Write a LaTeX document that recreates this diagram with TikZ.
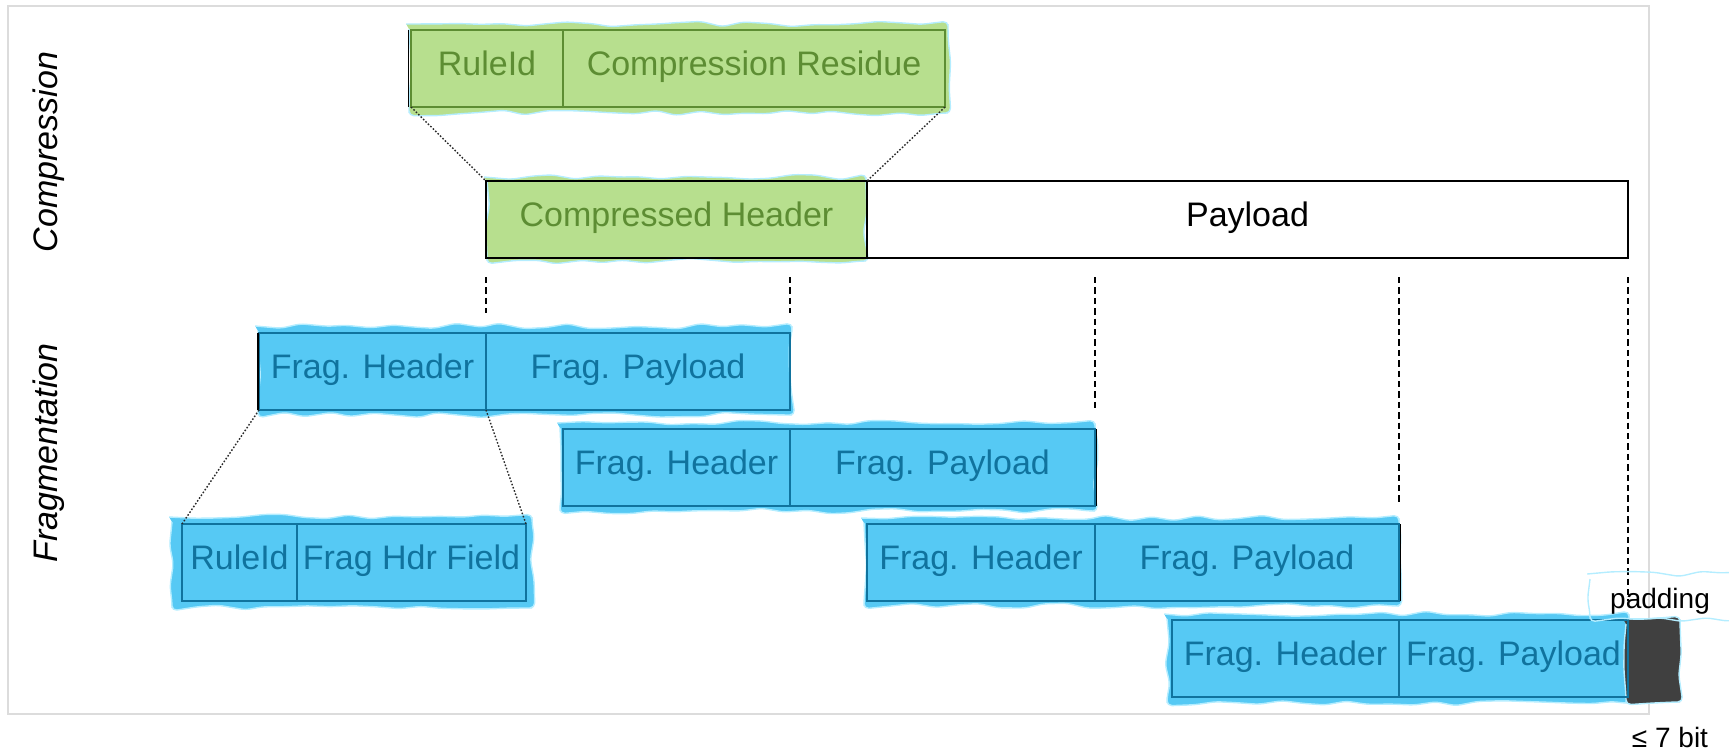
\documentclass[tikz,border=0pt]{standalone}
\usepackage{fontspec}
\setmainfont{Liberation Sans}
\usetikzlibrary{decorations.pathmorphing}

\definecolor{gfill}{HTML}{B7DF8E}
\definecolor{gline}{HTML}{5D8D33}
\definecolor{bfill}{HTML}{56C9F4}
\definecolor{bline}{HTML}{10739E}
\definecolor{sketchedge}{HTML}{B4EDFF}
\definecolor{padfill}{HTML}{404040}
\definecolor{framegray}{HTML}{DCDCDC}
\definecolor{dotgray}{HTML}{2A2A2A}

\pgfdeclarelayer{background}
\pgfsetlayers{background,main}

\begin{document}
\begin{tikzpicture}[x=0.5pt, y=-0.5pt,
  cell/.style={anchor=north west, inner sep=0pt, outer sep=0pt,
    minimum height=38.5pt, line width=0.75pt,
    font=\fontsize{17}{20}\selectfont, text height=0.85em, text depth=0.15em},
  gcell/.style={cell, draw=gline, text=gline},
  bcell/.style={cell, draw=bline, text=bline},
  plaincell/.style={cell, draw=black, line width=0.9pt, text=black},
  rough/.style={decorate, decoration={random steps, segment length=11pt, amplitude=1.4pt},
    rounded corners=2.5pt, draw=sketchedge, line width=0.7pt},
  sideedge/.style={draw=black, line width=0.7pt},
  guide/.style={draw=black, line width=0.65pt, dash pattern=on 3.2pt off 2pt},
  zoomline/.style={draw=dotgray, line width=0.7pt, dash pattern=on 0.8pt off 0.9pt},
  phase/.style={rotate=90, font=\fontsize{17}{20}\selectfont\itshape},
  note/.style={font=\fontsize{14}{17}\selectfont, inner sep=0pt}
]
\pgfmathsetseed{12}
\useasboundingbox (0,0) rectangle (1729,752);

% phase labels
\node[phase] (lcomp) at (49,152) {Compression};
\node[phase] (lfrag) at (49,453) {Fragmentation};

% compression: rule id + residue
\node[gcell, minimum width=76pt]  (rid) at (411,30) {RuleId};
\node[gcell, minimum width=191pt] (res) at (563,30) {Compression Residue};

% compressed packet
\node[plaincell, minimum width=190.5pt, text=gline] (ch)  at (486,181) {Compressed Header};
\node[plaincell, minimum width=380.5pt]             (pay) at (867,181) {Payload};

% fragments
\node[bcell, minimum width=113.5pt] (f1h) at (259,333)  {Frag. Header};
\node[bcell, minimum width=152pt]   (f1p) at (486,333)  {Frag. Payload};
\node[bcell, minimum width=113.5pt] (f2h) at (563,429)  {Frag. Header};
\node[bcell, minimum width=152.5pt] (f2p) at (790,429)  {Frag. Payload};
\node[bcell, minimum width=114pt]   (f3h) at (867,524)  {Frag. Header};
\node[bcell, minimum width=152pt]   (f3p) at (1095,524) {Frag. Payload};
\node[bcell, minimum width=113.5pt] (f4h) at (1172,620) {Frag. Header};
\node[bcell, minimum width=114.5pt] (f4p) at (1399,620) {Frag. Payload};
\node[cell, minimum width=25pt]     (pad) at (1630,620) {};

% fragment header detail
\node[bcell, minimum width=57.5pt]  (dr) at (182,524) {RuleId};
\node[bcell, minimum width=114.5pt] (dh) at (297,524) {Frag Hdr Field};

% outer frame and sketchy fills, behind the boxes
\begin{pgfonlayer}{background}
  \draw[framegray, line width=1pt] (8,6) rectangle (1649,714);
  \path[rough, fill=gfill] ([shift={(-1pt,3pt)}]rid.north west) rectangle ([shift={(1.5pt,-3pt)}]res.south east);
  \path[rough, fill=gfill] ([shift={(0.5pt,2pt)}]ch.north west) rectangle ([shift={(-0.5pt,-1.5pt)}]ch.south east);
  \path[rough, fill=bfill] ([shift={(-0.5pt,3.5pt)}]f1h.north west) rectangle ([shift={(1pt,-2.5pt)}]f1p.south east);
  \path[rough, fill=bfill] ([shift={(-1.5pt,3pt)}]f2h.north west) rectangle ([shift={(0pt,-2.5pt)}]f2p.south east);
  \path[rough, fill=bfill] ([shift={(-1.5pt,3pt)}]f3h.north west) rectangle ([shift={(0pt,-2.5pt)}]f3p.south east);
  \path[rough, fill=bfill] ([shift={(-2.5pt,3pt)}]f4h.north west) rectangle ([shift={(0.5pt,-3pt)}]f4p.south east);
  \path[rough, fill=padfill] ([shift={(-2pt,0.5pt)}]pad.north west) rectangle ([shift={(0pt,-2.5pt)}]pad.south east);
  \path[rough, fill=bfill] ([shift={(-5pt,3.5pt)}]dr.north west) rectangle ([shift={(3pt,-3.5pt)}]dh.south east);
\end{pgfonlayer}

% black box edges left visible by the sketch fills
\draw[sideedge] ([xshift=-1.2pt]rid.north west) -- ([xshift=-1.2pt]rid.south west);
\draw[sideedge] ([xshift=-0.6pt]f1h.north west) -- ([xshift=-0.6pt]f1h.south west);
\draw[sideedge] ([xshift=0.6pt]f2p.north east) -- ([xshift=0.6pt]f2p.south east);
\draw[sideedge] ([xshift=0.6pt]f3p.north east) -- ([xshift=0.6pt]f3p.south east);

% zoom-in connectors
\draw[zoomline] (rid.south west) -- (ch.north west);
\draw[zoomline] (res.south east) -- (ch.north east);
\draw[zoomline] (f1h.south west) -- (dr.north west);
\draw[zoomline] (f1h.south east) -- (dh.north east);

% fragment boundary guides
\coordinate (gtop) at (0,277);
\draw[guide] (f1h.north east |- gtop) -- ([yshift=10pt]f1h.north east);
\draw[guide] (f1p.north east |- gtop) -- ([yshift=10pt]f1p.north east);
\draw[guide] (f2p.north east |- gtop) -- ([yshift=9.5pt]f2p.north east);
\draw[guide] (f3p.north east |- gtop) -- ([yshift=9.5pt]f3p.north east);
\draw[guide] (f4p.north east |- gtop) -- ([yshift=9.5pt]f4p.north east);

% padding annotation
\node[note] (plab) at (1660,601) {padding};
\path[rough] ([shift={(-35pt,13.5pt)}]plab.center) rectangle ([shift={(45pt,-9pt)}]plab.center);
\node[note, anchor=base] (bits) at (1670,747) {≤ 7 bit};
\end{tikzpicture}
\end{document}
